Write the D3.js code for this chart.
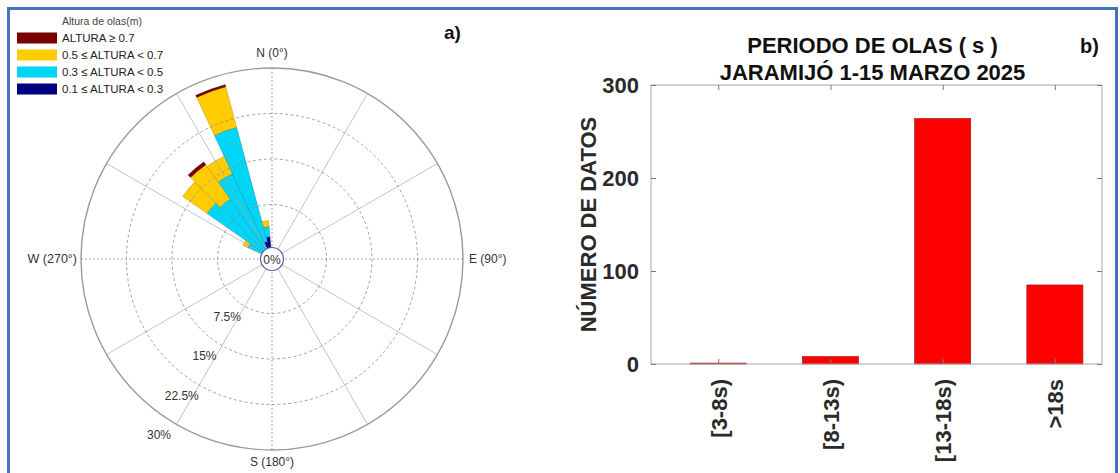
<!DOCTYPE html>
<html><head><meta charset="utf-8">
<script src="https://cdn.jsdelivr.net/npm/d3@7"></script>
<style>
body{margin:0;background:#fff}
svg{display:block}
text{font-family:"Liberation Sans",Arial,Helvetica,sans-serif}
</style>
</head><body>
<svg id="c" width="1120" height="473"></svg>
<script>
// ---------- DATA ----------
// Wind-rose (wave direction, % of records), 10° bins
const directions = [300, 310, 320, 330, 340, 350];
const binWidth = 10;
const h01_03 = [0.0, 0.0, 0.0, 0.5, 1.5, 2.2];     // 0.1 <= ALTURA < 0.3
const h03_05 = [2.9, 11.6, 10.6, 13.5, 19.5, 1.7]; // 0.3 <= ALTURA < 0.5
const h05_07 = [0.9, 4.9, 6.9, 3.2, 6.9, 1.0];     // 0.5 <= ALTURA < 0.7
const h07    = [0.0, 0.0, 0.6, 0.0, 0.4, 0.0];     // ALTURA >= 0.7
const legendTitle = "Altura de olas(m)";
const legendLabels = ["ALTURA \u2265 0.7", "0.5 \u2264 ALTURA < 0.7", "0.3 \u2264 ALTURA < 0.5", "0.1 \u2264 ALTURA < 0.3"];
const ringTicks = [7.5, 15, 22.5, 30];
const ringLabels = ["7.5%", "15%", "22.5%", "30%"];
const compassLabels = ["N (0\u00b0)", "E (90\u00b0)", "S (180\u00b0)", "W (270\u00b0)"];

// Bar chart (wave period)
const periodCats = ["[3-8s)", "[8-13s)", "[13-18s)", ">18s"];
const periodCounts = [1, 8, 264, 85];
const countTicks = [0, 100, 200, 300];

// ---------- DRAW ----------
const svg = d3.select("#c");

// frame
svg.append("path").attr("d", "M8.5,480 V8.5 H1116.5 V480")
  .attr("fill", "none").attr("stroke", "#4472c4").attr("stroke-width", 3);

// ===== Wind rose =====
const cx = 272, cy = 259;
const rScale = d3.scaleLinear().domain([0, 30]).range([9, 191]);
const R = rScale(30);
const rose = svg.append("g").attr("transform", `translate(${cx},${cy})`);
const rad = d => d * Math.PI / 180;

const keys = ["h1", "h2", "h3", "h4"];
const colors = {h1: "#000080", h2: "#00d5f5", h3: "#ffcc00", h4: "#7a0000"};
const rows = directions.map((d, i) => ({dir: d, h1: h01_03[i], h2: h03_05[i], h3: h05_07[i], h4: h07[i]}));
const series = d3.stack().keys(keys)(rows);
const arc = d3.arc();

const petals = rose.append("g");
series.forEach(s => {
  petals.append("g").selectAll("path")
    .data(s.filter(d => d[1] > d[0]))
    .join("path")
    .attr("d", d => arc({
      innerRadius: rScale(d[0]), outerRadius: rScale(d[1]),
      startAngle: rad(d.data.dir - binWidth / 2), endAngle: rad(d.data.dir + binWidth / 2)
    }))
    .attr("fill", colors[s.key])
    .attr("stroke", "rgba(0,0,0,0.25)").attr("stroke-width", 0.6);
});

// grid (drawn over petals)
const grid = rose.append("g");
d3.range(0, 360, 30).forEach(a => {
  const cardinal = a % 90 === 0;
  grid.append("line")
    .attr("x1", rScale(0) * Math.sin(rad(a))).attr("y1", -rScale(0) * Math.cos(rad(a)))
    .attr("x2", R * Math.sin(rad(a))).attr("y2", -R * Math.cos(rad(a)))
    .attr("stroke", cardinal ? "#8c8c8c" : "#a8a8a8")
    .attr("stroke-width", cardinal ? 0.9 : 0.8)
    .attr("stroke-dasharray", cardinal ? "2,2" : null)
    .attr("opacity", 0.85);
});
grid.selectAll("circle.ring").data(ringTicks).join("circle")
  .attr("class", "ring")
  .attr("r", d => rScale(d))
  .attr("fill", "none")
  .attr("stroke", (d, i) => i === ringTicks.length - 1 ? "#9a9a9a" : "#8c8c8c")
  .attr("stroke-width", (d, i) => i === ringTicks.length - 1 ? 1.4 : 0.8)
  .attr("stroke-dasharray", (d, i) => i === ringTicks.length - 1 ? null : "3,2.5");

// center circle
rose.append("circle").attr("r", 11.5).attr("fill", "#fff").attr("stroke", "#5a5aa8").attr("stroke-width", 1.2);
rose.append("text").attr("x", 0).attr("y", 1).attr("dominant-baseline", "central")
  .attr("text-anchor", "middle").attr("font-size", 12).attr("fill", "#333").text("0%");

// ring labels along the 210° spoke
const la = rad(210);
rose.selectAll("text.rl").data(ringTicks).join("text")
  .attr("class", "rl")
  .attr("x", d => (rScale(d) + 18) * Math.sin(la) - 8.5)
  .attr("y", d => -(rScale(d) + 18) * Math.cos(la) - 5)
  .attr("text-anchor", "middle").attr("dominant-baseline", "central")
  .attr("font-size", 12).attr("fill", "#333")
  .text((d, i) => ringLabels[i]);

// compass labels
rose.append("text").attr("x", 0).attr("y", -R - 11).attr("text-anchor", "middle")
  .attr("font-size", 12).attr("fill", "#333").text(compassLabels[0]);
rose.append("text").attr("x", R + 6).attr("y", 0).attr("dominant-baseline", "central")
  .attr("font-size", 12).attr("fill", "#333").text(compassLabels[1]);
rose.append("text").attr("x", 0).attr("y", R + 16).attr("text-anchor", "middle")
  .attr("font-size", 12).attr("fill", "#333").text(compassLabels[2]);
rose.append("text").attr("x", -R - 4).attr("y", 0).attr("text-anchor", "end").attr("dominant-baseline", "central")
  .attr("font-size", 12.5).attr("fill", "#333").text(compassLabels[3]);

// legend
const legColors = [colors.h4, colors.h3, colors.h2, colors.h1];
const lg = svg.append("g");
lg.append("text").attr("x", 62).attr("y", 25).attr("font-size", 10.5).attr("fill", "#444").text(legendTitle);
const legY = d3.scalePoint().domain(d3.range(4)).range([38, 89]);
lg.selectAll("rect").data(legendLabels).join("rect")
  .attr("x", 17).attr("y", (d, i) => legY(i) - 5.5).attr("width", 40).attr("height", 11)
  .attr("fill", (d, i) => legColors[i]);
lg.selectAll("text.li").data(legendLabels).join("text")
  .attr("class", "li").attr("x", 62).attr("y", (d, i) => legY(i)).attr("dominant-baseline", "central")
  .attr("font-size", 11.5).attr("fill", "#222").text(d => d);

// panel label a)
svg.append("text").attr("x", 444).attr("y", 39).attr("font-size", 19).attr("font-weight", "bold")
  .attr("fill", "#111").text("a)");

// ===== Bar chart =====
const x0 = 651, x1 = 1102, yTop = 85, yBot = 364;
const xB = d3.scaleLinear().domain([0.4, 4.42]).range([x0, x1]);
const yB = d3.scaleLinear().domain([0, 300]).range([yBot, yTop]);
const bc = svg.append("g");
const barW = xB(1.25) - xB(0.75);

bc.selectAll("rect.bar").data(periodCounts).join("rect")
  .attr("class", "bar")
  .attr("x", (d, i) => xB(i + 1) - barW / 2)
  .attr("width", barW)
  .attr("y", d => yB(d))
  .attr("height", d => yB(0) - yB(d))
  .attr("fill", "#ff0000")
  .attr("stroke", "#9a1010").attr("stroke-width", 0.6);

// box
bc.append("rect").attr("x", x0).attr("y", yTop).attr("width", x1 - x0).attr("height", yBot - yTop)
  .attr("fill", "none").attr("stroke", "#a6a6a6").attr("stroke-width", 1);

const tickStyle = g => {
  g.select(".domain").remove();
  g.selectAll(".tick line").attr("stroke", "#7a7a7a");
  g.selectAll(".tick text").attr("font-size", 22).attr("font-weight", "bold").attr("fill", "#2a2a2a")
    .attr("font-family", "'Liberation Sans', Arial, sans-serif");
};
bc.append("g").attr("transform", `translate(${x0},0)`)
  .call(d3.axisLeft(yB).tickValues(countTicks).tickSize(-5).tickPadding(12))
  .call(tickStyle);
bc.append("g").attr("transform", `translate(${x1},0)`)
  .call(d3.axisRight(yB).tickValues(countTicks).tickSize(-5).tickFormat(""))
  .call(tickStyle);
bc.append("g").attr("transform", `translate(0,${yTop})`)
  .call(d3.axisTop(xB).tickValues([1, 2, 3, 4]).tickSize(-5).tickFormat(""))
  .call(tickStyle);
const xg = bc.append("g").attr("transform", `translate(0,${yBot})`)
  .call(d3.axisBottom(xB).tickValues([1, 2, 3, 4]).tickSize(-5).tickFormat(i => periodCats[i - 1]))
  .call(tickStyle);
xg.selectAll(".tick text")
  .attr("transform", "rotate(-90)")
  .attr("text-anchor", "end")
  .attr("x", -15).attr("y", 0).attr("dy", "0.36em");

// y label
svg.append("text")
  .attr("transform", `translate(596,${(yTop + yBot) / 2}) rotate(-90)`)
  .attr("text-anchor", "middle")
  .attr("font-size", 22).attr("font-weight", "bold").attr("fill", "#2a2a2a")
  .text("NÚMERO DE DATOS");

// title
const tx = (x0 + x1) / 2 - 4;
svg.append("text").attr("x", tx).attr("y", 53).attr("text-anchor", "middle")
  .attr("font-size", 22).attr("font-weight", "bold").attr("fill", "#111")
  .text("PERIODO DE OLAS ( s )");
svg.append("text").attr("x", tx).attr("y", 80).attr("text-anchor", "middle")
  .attr("font-size", 22).attr("font-weight", "bold").attr("fill", "#111")
  .text("JARAMIJÓ 1-15 MARZO 2025");
svg.append("text").attr("x", 1080).attr("y", 53).attr("font-size", 20).attr("font-weight", "bold")
  .attr("fill", "#111").text("b)");
</script>
</body></html>
